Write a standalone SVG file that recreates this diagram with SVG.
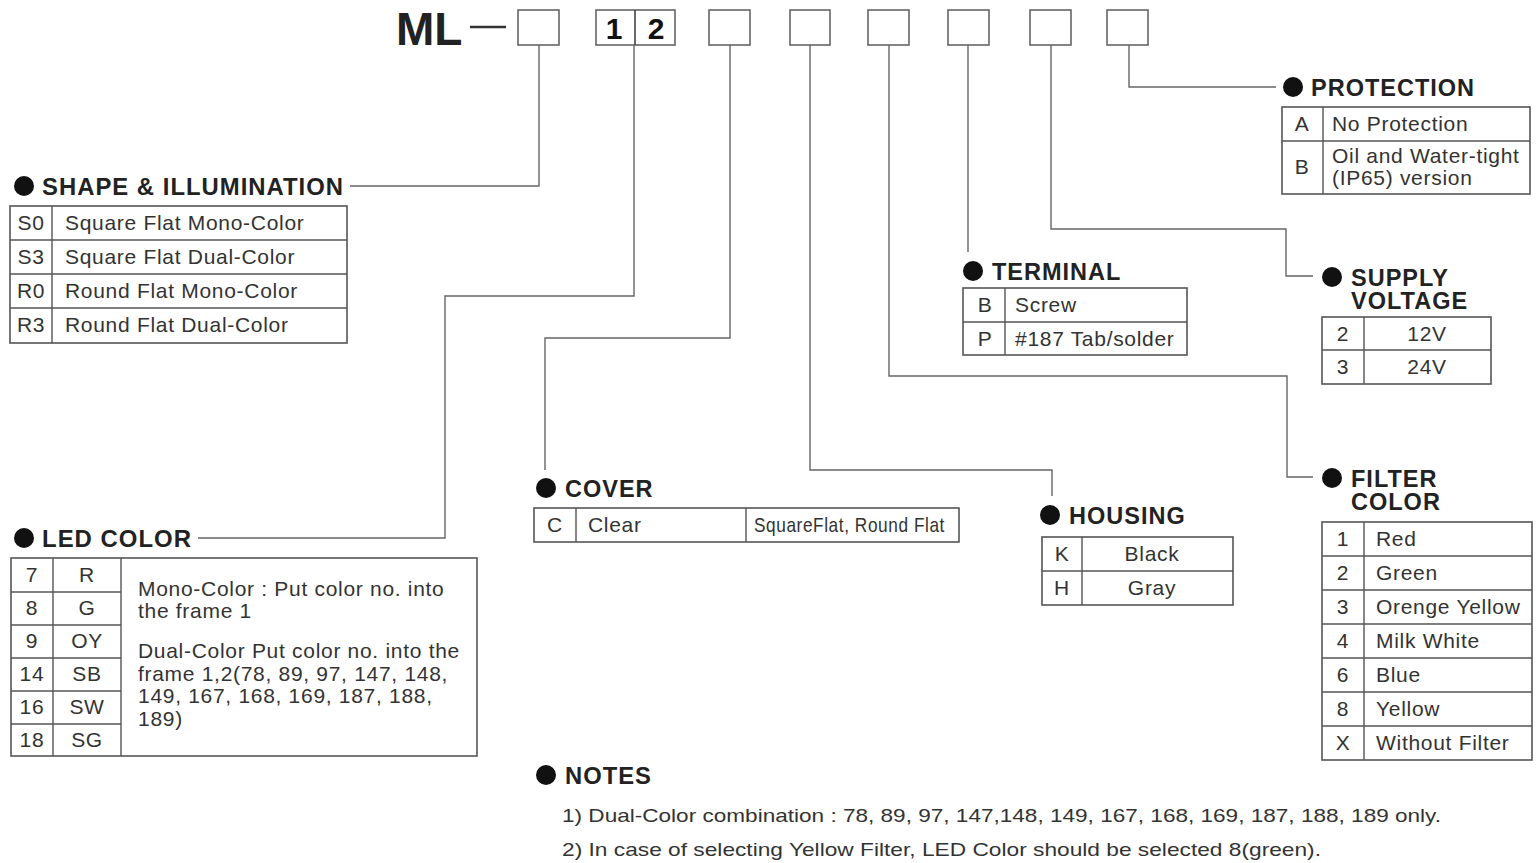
<svg xmlns="http://www.w3.org/2000/svg" width="1540" height="863" viewBox="0 0 1540 863">
<style>
.t{font-family:"Liberation Sans",Arial,sans-serif;font-size:21px;letter-spacing:0.7px;fill:#333}
.c{text-anchor:middle}
.h{font-family:"Liberation Sans",Arial,sans-serif;font-size:23.5px;letter-spacing:1px;font-weight:bold;fill:#222}
.n{font-family:"Liberation Sans",Arial,sans-serif;font-size:19px;fill:#333}
.tb{fill:#fff;stroke:#555;stroke-width:1.6}
.ln{stroke:#555;stroke-width:1.4;fill:none}
.cn{stroke:#666;stroke-width:1.4;fill:none}
.bx{fill:#fff;stroke:#666;stroke-width:1.6}
.dot{fill:#111}
</style>
<rect width="1540" height="863" fill="#fff"/>

<g id="header">
<text x="396" y="45" font-family="Liberation Sans,Arial,sans-serif" font-size="46" font-weight="bold" fill="#222">ML</text>
<line x1="470" y1="27" x2="506" y2="27" stroke="#333" stroke-width="2.5"/>
<rect class="bx" x="518" y="10" width="41" height="35"/>
<rect class="bx" x="596" y="10" width="79" height="35" stroke="#333"/>
<line x1="635" y1="10" x2="635" y2="45" stroke="#444" stroke-width="1.6"/>
<text x="614" y="39" font-family="Liberation Sans,Arial,sans-serif" font-size="30" font-weight="bold" fill="#111" text-anchor="middle">1</text>
<text x="656" y="39" font-family="Liberation Sans,Arial,sans-serif" font-size="30" font-weight="bold" fill="#111" text-anchor="middle">2</text>
<rect class="bx" x="709" y="10" width="41" height="35"/>
<rect class="bx" x="790" y="10" width="40" height="35"/>
<rect class="bx" x="868" y="10" width="41" height="35"/>
<rect class="bx" x="948" y="10" width="41" height="35"/>
<rect class="bx" x="1030" y="10" width="41" height="35"/>
<rect class="bx" x="1107" y="10" width="41" height="35"/>
</g>

<g id="connectors">
<polyline class="cn" points="539,45 539,186 350,186"/>
<polyline class="cn" points="634,45 634,296 445,296 445,538 198,538"/>
<polyline class="cn" points="730,45 730,338 545,338 545,470"/>
<polyline class="cn" points="810,45 810,470 1052,470 1052,496"/>
<polyline class="cn" points="889,45 889,376 1287,376 1287,477 1313,477"/>
<polyline class="cn" points="968,45 968,252"/>
<polyline class="cn" points="1051,45 1051,229 1286,229 1286,276 1313,276"/>
<polyline class="cn" points="1129,45 1129,87 1276,87"/>
</g>

<g id="shape">
<circle class="dot" cx="24" cy="186" r="10"/>
<text class="h" x="42" y="195" textLength="302" lengthAdjust="spacingAndGlyphs">SHAPE &amp; ILLUMINATION</text>
<rect class="tb" x="10" y="206" width="337" height="137"/>
<path class="ln" d="M52 206V343M10 240H347M10 274H347M10 308H347"/>
<text class="t c" x="31" y="230">S0</text><text class="t" x="65" y="230">Square Flat Mono-Color</text>
<text class="t c" x="31" y="264">S3</text><text class="t" x="65" y="264">Square Flat Dual-Color</text>
<text class="t c" x="31" y="298">R0</text><text class="t" x="65" y="298">Round Flat Mono-Color</text>
<text class="t c" x="31" y="332">R3</text><text class="t" x="65" y="332">Round Flat Dual-Color</text>
</g>

<g id="led">
<circle class="dot" cx="24" cy="538" r="10"/>
<text class="h" x="42" y="547" textLength="150" lengthAdjust="spacingAndGlyphs">LED COLOR</text>
<rect class="tb" x="11" y="558" width="466" height="198"/>
<path class="ln" d="M53 558V756M121 558V756M11 592H121M11 625H121M11 658H121M11 691H121M11 724H121"/>
<text class="t c" x="32" y="582">7</text><text class="t c" x="87" y="582">R</text>
<text class="t c" x="32" y="615">8</text><text class="t c" x="87" y="615">G</text>
<text class="t c" x="32" y="648">9</text><text class="t c" x="87" y="648">OY</text>
<text class="t c" x="32" y="681">14</text><text class="t c" x="87" y="681">SB</text>
<text class="t c" x="32" y="714">16</text><text class="t c" x="87" y="714">SW</text>
<text class="t c" x="32" y="747">18</text><text class="t c" x="87" y="747">SG</text>
<text class="t" x="138" y="596">Mono-Color : Put color no. into</text>
<text class="t" x="138" y="618">the frame 1</text>
<text class="t" x="138" y="658">Dual-Color Put color no. into the</text>
<text class="t" x="138" y="681">frame 1,2(78, 89, 97, 147, 148,</text>
<text class="t" x="138" y="703">149, 167, 168, 169, 187, 188,</text>
<text class="t" x="138" y="726">189)</text>
</g>

<g id="cover">
<circle class="dot" cx="546" cy="488" r="10"/>
<text class="h" x="565" y="497">COVER</text>
<rect class="tb" x="534" y="508" width="425" height="34"/>
<path class="ln" d="M576 508V542M746 508V542"/>
<text class="t c" x="555" y="532">C</text>
<text class="t" x="588" y="532">Clear</text>
<text class="t" x="754" y="532" font-size="18" letter-spacing="0" textLength="191" lengthAdjust="spacingAndGlyphs">SquareFlat, Round Flat</text>
</g>

<g id="housing">
<circle class="dot" cx="1050" cy="515" r="10"/>
<text class="h" x="1069" y="524">HOUSING</text>
<rect class="tb" x="1042" y="537" width="191" height="68"/>
<path class="ln" d="M1082 537V605M1042 571H1233"/>
<text class="t c" x="1062" y="561">K</text><text class="t c" x="1152" y="561">Black</text>
<text class="t c" x="1062" y="595">H</text><text class="t c" x="1152" y="595">Gray</text>
</g>

<g id="terminal">
<circle class="dot" cx="973" cy="271" r="10"/>
<text class="h" x="992" y="280">TERMINAL</text>
<rect class="tb" x="963" y="288" width="224" height="67"/>
<path class="ln" d="M1005 288V355M963 322H1187"/>
<text class="t c" x="985" y="312">B</text><text class="t" x="1015" y="312">Screw</text>
<text class="t c" x="985" y="346">P</text><text class="t" x="1015" y="346">#187 Tab/solder</text>
</g>

<g id="protection">
<circle class="dot" cx="1293" cy="87" r="10"/>
<text class="h" x="1311" y="96">PROTECTION</text>
<rect class="tb" x="1282" y="107" width="248" height="87"/>
<path class="ln" d="M1323 107V194M1282 141H1530"/>
<text class="t c" x="1302" y="131">A</text><text class="t" x="1332" y="131">No Protection</text>
<text class="t c" x="1302" y="174">B</text>
<text class="t" x="1332" y="163">Oil and Water-tight</text>
<text class="t" x="1332" y="185">(IP65) version</text>
</g>

<g id="supply">
<circle class="dot" cx="1332" cy="277" r="10"/>
<text class="h" x="1351" y="286">SUPPLY</text>
<text class="h" x="1351" y="309">VOLTAGE</text>
<rect class="tb" x="1322" y="317" width="169" height="67"/>
<path class="ln" d="M1364 317V384M1322 350H1491"/>
<text class="t c" x="1343" y="341">2</text><text class="t c" x="1427" y="341">12V</text>
<text class="t c" x="1343" y="374">3</text><text class="t c" x="1427" y="374">24V</text>
</g>

<g id="filter">
<circle class="dot" cx="1332" cy="478" r="10"/>
<text class="h" x="1351" y="487">FILTER</text>
<text class="h" x="1351" y="510">COLOR</text>
<rect class="tb" x="1322" y="522" width="210" height="238"/>
<path class="ln" d="M1364 522V760M1322 556H1532M1322 590H1532M1322 624H1532M1322 658H1532M1322 692H1532M1322 726H1532"/>
<text class="t c" x="1343" y="546">1</text><text class="t" x="1376" y="546">Red</text>
<text class="t c" x="1343" y="580">2</text><text class="t" x="1376" y="580">Green</text>
<text class="t c" x="1343" y="614">3</text><text class="t" x="1376" y="614">Orenge Yellow</text>
<text class="t c" x="1343" y="648">4</text><text class="t" x="1376" y="648">Milk White</text>
<text class="t c" x="1343" y="682">6</text><text class="t" x="1376" y="682">Blue</text>
<text class="t c" x="1343" y="716">8</text><text class="t" x="1376" y="716">Yellow</text>
<text class="t c" x="1343" y="750">X</text><text class="t" x="1376" y="750">Without Filter</text>
</g>

<g id="notes">
<circle class="dot" cx="546" cy="775" r="10"/>
<text class="h" x="565" y="784" letter-spacing="0" textLength="87" lengthAdjust="spacingAndGlyphs">NOTES</text>
<text class="n" x="562" y="822" textLength="879" lengthAdjust="spacingAndGlyphs">1) Dual-Color combination : 78, 89, 97, 147,148, 149, 167, 168, 169, 187, 188, 189 only.</text>
<text class="n" x="562" y="856" textLength="759" lengthAdjust="spacingAndGlyphs">2) In case of selecting  Yellow Filter, LED Color should be selected 8(green).</text>
</g>
</svg>
